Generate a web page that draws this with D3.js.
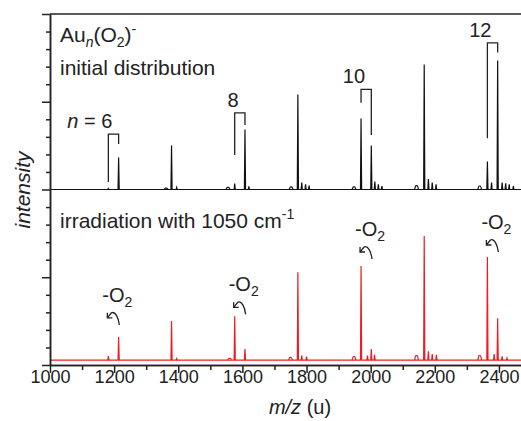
<!DOCTYPE html>
<html>
<head>
<meta charset="utf-8">
<script src="https://cdn.jsdelivr.net/npm/d3@7"></script>
<style>
  body { margin: 0; background: #fff; }
  svg { display: block; font-family: "Liberation Sans", Arial, sans-serif; }
</style>
</head>
<body>
<svg id="chart" width="521" height="421"></svg>
<script>
// main cluster peaks: Au_n^- and Au_n(O2)^- positions (m/z, u)
const peakMz = [1182, 1214, 1379, 1576, 1608, 1773, 1970, 2002, 2167, 2364, 2396];
// intensities in minor-tick units, above each spectrum's own baseline
const initialHeights = [0.06, 1.82, 2.5, 0.34, 3.42, 5.41, 4.05, 2.5, 7.12, 1.6, 7.35];
const irradiatedHeights = [0.23, 1.31, 2.22, 2.5, 0.63, 5.0, 5.36, 0.63, 7.07, 5.87, 2.39];

// small side peaks (m/z, intensity)
const initialMinorMz = [1362, 1395, 1555, 1620, 1752, 1785, 1797, 1808, 1948, 2013, 2024, 2035,
    2143, 2180, 2192, 2204, 2340, 2377, 2410, 2421, 2432, 2445];
const initialMinor = [0.08, 0.12, 0.12, 0.18, 0.15, 0.4, 0.3, 0.22, 0.15, 0.45, 0.3, 0.2,
    0.22, 0.6, 0.4, 0.3, 0.2, 0.4, 0.4, 0.35, 0.3, 0.2];
const irradiatedMinorMz = [1395, 1560, 1750, 1785, 1800, 1948, 1990, 2012, 2143, 2180, 2192, 2205,
    2340, 2385, 2410, 2425];
const irradiatedMinor = [0.08, 0.1, 0.15, 0.25, 0.2, 0.2, 0.25, 0.3, 0.25, 0.5, 0.35, 0.3,
    0.25, 0.35, 0.22, 0.12];
// broad humps are wider than the sharp spikes
const humpMz = [1362, 1555, 1560, 1752, 1750, 1948, 2143, 2340];

// spectrum baselines on the shared intensity axis
const baseInitial = 10;
const baseIrradiated = 0.28;

// axis ticks
const xMajor = [1000, 1200, 1400, 1600, 1800, 2000, 2200, 2400];
const xMinor = [1100, 1300, 1500, 1700, 1900, 2100, 2300, 2500];
const yMajor = [0, 5, 10, 15, 20];
const yMinor = d3.range(0, 21).filter(d => d % 5 !== 0);

// cluster size brackets in the upper spectrum
const bracketN = [6, 8, 10, 12];
const bracketLeftMz = [1182, 1576, 1970, 2364];
const bracketRightMz = [1214, 1608, 2002, 2396];
const bracketTop = [13.16, 14.37, 15.70, 18.36];
const bracketLeftEnd = [10.43, 11.97, 14.95, 12.92];
const bracketRightEnd = [12.59, 13.68, 13.11, 17.80];

// -O2 labels in the lower spectrum
const lossMz = [1182, 1576, 1970, 2364];
const lossLevel = [3.6, 4.2, 7.35, 7.75];

const svg = d3.select('#chart');
const x = d3.scaleLinear().domain([1000, 2500]).range([50, 531]);
const y = d3.scaleLinear().domain([0, 20]).range([365, 14]);
const ink = '#222';

/**
 * draw one spectrum: a baseline and a narrow spike per peak
 */
function drawSpectrum(base, mz, heights, minorMz, minor, color) {
    const g = svg.append('g').attr('fill', 'none').attr('stroke', color)
        .attr('stroke-width', 1.2).attr('stroke-linejoin', 'miter');

    g.append('path')
        .attr('d', d3.line().x(d => x(d)).y(() => y(base))([1000, 2500]));

    const spikes = mz.map((m, i) => ({m: m, h: heights[i], w: 1.8}))
        .concat(minorMz.map((m, i) => ({m: m, h: minor[i], w: humpMz.includes(m) ? 6 : 1.8})));

    const line = d3.line().x(d => x(d[0])).y(d => y(d[1])).curve(d3.curveMonotoneX);
    g.selectAll('.spike')
        .data(spikes)
        .enter()
        .append('path')
        .attr('d', d => d.w > 2
            ? line([[d.m - d.w, base], [d.m - d.w / 3, base + d.h], [d.m + d.w / 3, base + d.h], [d.m + d.w, base]])
            : d3.line().x(p => x(p[0])).y(p => y(p[1]))([[d.m - d.w, base], [d.m, base + d.h], [d.m + d.w, base]]));
}

drawSpectrum(baseInitial, peakMz, initialHeights, initialMinorMz, initialMinor, '#111');
drawSpectrum(baseIrradiated, peakMz, irradiatedHeights, irradiatedMinorMz, irradiatedMinor, '#ee1c24');

// axes
const axisG = svg.append('g');
axisG.append('g').attr('transform', 'translate(0,365)')
    .call(d3.axisBottom(x).tickValues(xMinor).tickSize(5).tickSizeOuter(0).tickFormat(''));
axisG.append('g').attr('transform', 'translate(0,365)')
    .call(d3.axisBottom(x).tickValues(xMajor).tickSize(8).tickSizeOuter(0).tickFormat(d3.format('d')))
    .call(g => g.selectAll('text').attr('y', 18).attr('dy', 0)
        .attr('font-size', 18).attr('fill', ink).attr('font-family', null));
axisG.append('g').attr('transform', 'translate(50,0)')
    .call(d3.axisLeft(y).tickValues(yMinor).tickSize(4).tickSizeOuter(0).tickFormat(''));
axisG.append('g').attr('transform', 'translate(50,0)')
    .call(d3.axisLeft(y).tickValues(yMajor).tickSize(8).tickSizeOuter(0).tickFormat(''));
axisG.selectAll('path, line').attr('stroke', ink).attr('stroke-width', 1.5);

// top frame line
svg.append('line')
    .attr('x1', x(1000)).attr('x2', x(2500)).attr('y1', y(20)).attr('y2', y(20))
    .attr('stroke', ink).attr('stroke-width', 1.5);

// axis titles
const xTitle = svg.append('text').attr('x', 300).attr('y', 414)
    .attr('text-anchor', 'middle').attr('font-size', 20).attr('fill', ink);
xTitle.append('tspan').attr('font-style', 'italic').text('m/z');
xTitle.append('tspan').text(' (u)');

svg.append('text')
    .attr('transform', 'translate(30,190) rotate(-90)')
    .attr('text-anchor', 'middle').attr('font-size', 21).attr('font-style', 'italic')
    .attr('fill', ink).text('intensity');

// panel labels
const title = svg.append('text').attr('x', 60).attr('y', 42).attr('font-size', 21).attr('fill', ink);
title.append('tspan').text('Au');
title.append('tspan').attr('font-style', 'italic').attr('font-size', 14).attr('dy', 5).text('n');
title.append('tspan').attr('dy', -5).text('(O');
title.append('tspan').attr('font-size', 14).attr('dy', 5).text('2');
title.append('tspan').attr('dy', -5).text(')');
title.append('tspan').attr('font-size', 14).attr('dy', -8).text('-');

svg.append('text').attr('x', 60).attr('y', 75).attr('font-size', 21).attr('fill', ink)
    .text('initial distribution');

const irr = svg.append('text').attr('x', 60).attr('y', 228).attr('font-size', 21).attr('fill', ink);
irr.append('tspan').text('irradiation with 1050 cm');
irr.append('tspan').attr('font-size', 14).attr('dy', -9).text('-1');

// brackets marking Au_n and Au_n(O2)
const brackets = svg.append('g').attr('fill', 'none').attr('stroke', ink).attr('stroke-width', 1.3);
bracketN.forEach((n, i) => {
    const pts = [
        [x(bracketLeftMz[i]), y(bracketLeftEnd[i])],
        [x(bracketLeftMz[i]), y(bracketTop[i])],
        [x(bracketRightMz[i]), y(bracketTop[i])],
        [x(bracketRightMz[i]), y(bracketRightEnd[i])]
    ];
    brackets.append('path').attr('d', d3.line()(pts));

    const label = svg.append('text')
        .attr('x', x(bracketLeftMz[i]) + 4).attr('y', y(bracketTop[i]) - 6)
        .attr('text-anchor', 'end').attr('font-size', 20).attr('fill', ink);
    if (i === 0) {
        label.append('tspan').attr('font-style', 'italic').text('n');
        label.append('tspan').text(' = ' + n);
    } else {
        label.text(n);
    }
});

// -O2 loss labels with curled arrows
lossMz.forEach((m, i) => {
    const x0 = x(m) - 6;
    const b = y(lossLevel[i]);
    const t = svg.append('text').attr('x', x0).attr('y', b).attr('font-size', 20).attr('fill', ink);
    t.append('tspan').text('-O');
    t.append('tspan').attr('font-size', 14).attr('dy', 5).text('2');

    const g = svg.append('g').attr('transform', `translate(${x0},${b})`)
        .attr('fill', 'none').attr('stroke', ink).attr('stroke-width', 1.3);
    g.append('path').attr('d', 'M17,23 C16,16 13,9 9,11 L5,16');
    g.append('path').attr('d', 'M5,11 L5,16 L10,16');
});
</script>
</body>
</html>
